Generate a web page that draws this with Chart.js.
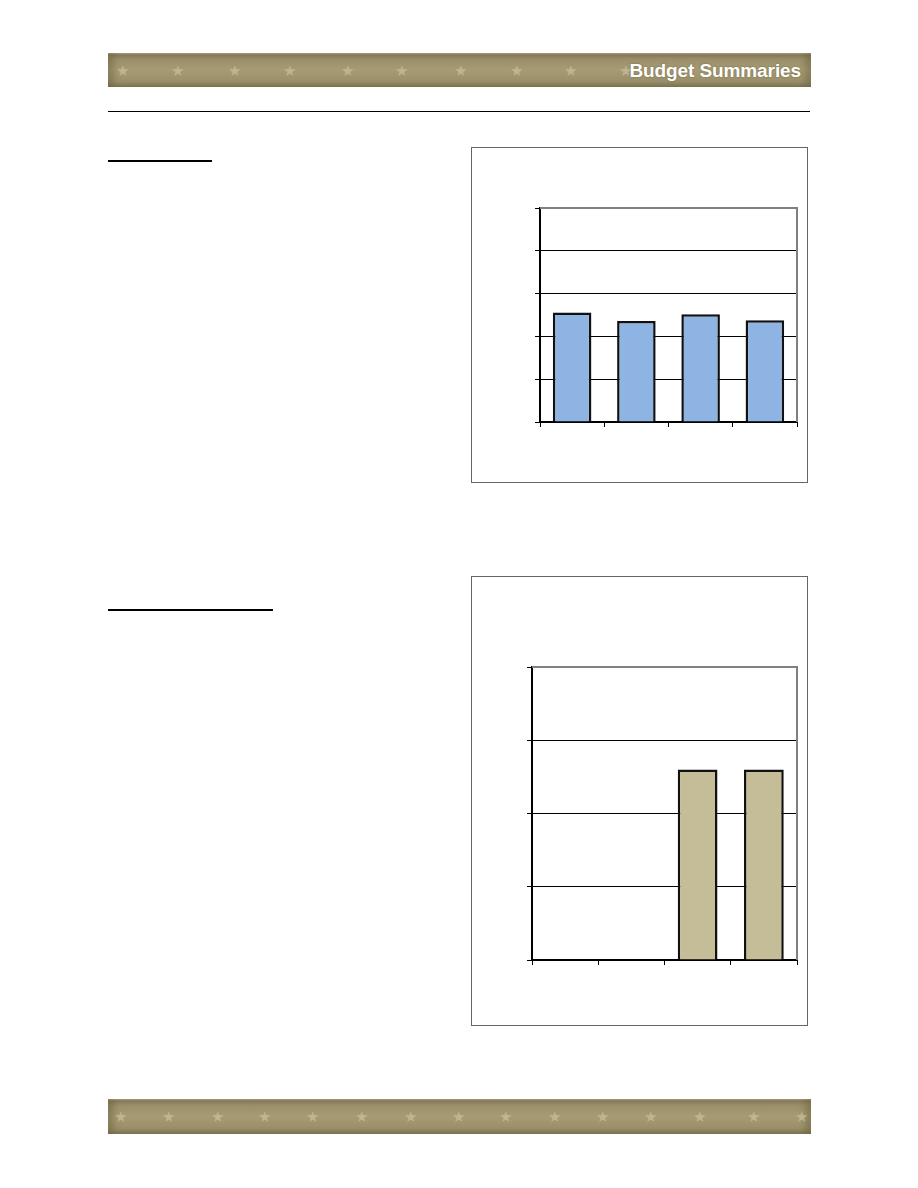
<!DOCTYPE html>
<html>
<head>
<meta charset="utf-8">
<script src="https://cdn.jsdelivr.net/npm/chart.js@4/dist/chart.umd.min.js"></script>
<style>
  body { margin: 0; background: #fff; font-family: "Liberation Sans", Arial, sans-serif; }
  .page { position: relative; width: 918px; height: 1188px; }
  .banner {
    position: absolute; left: 108px; width: 703px; overflow: hidden;
    background: linear-gradient(to bottom, #c9bd92 0px, #8e8262 2px, #9a8f69 6px, #a69b73 50%, #9a8f69 85%, #8a7f5e 100%);
    box-shadow: inset 6px 0 6px rgba(90,80,50,0.35), inset -6px 0 6px rgba(90,80,50,0.35);
  }
  .star { position: absolute; color: rgba(210,200,160,0.6); font-size: 15px; line-height: 15px; }
  .title {
    position: absolute; right: 10px; top: 8px; color: #fff; font-weight: bold;
    font-size: 19px; line-height: 20px; letter-spacing: -0.1px;
    text-shadow: 0 0 2px rgba(80,70,40,0.6);
  }
  .rule { position: absolute; height: 0; border-top: 1px solid #000; }
  .box { position: absolute; border: 1px solid #666; background: #fff; }
  .box canvas { position: absolute; left: 0; top: 0; }
</style>
</head>
<body>
<div class="page">
  <div class="banner" id="topBanner" style="top:53px;height:34px;">
    <div class="title">Budget Summaries</div>
  </div>
  <div class="rule" style="left:108px;top:111px;width:702px;"></div>
  <div class="rule" style="left:108px;top:160px;width:104px;border-top-width:2px;"></div>
  <div class="rule" style="left:108px;top:609px;width:165px;border-top-width:2px;"></div>

  <div class="box" style="left:471px;top:147px;width:335px;height:334px;">
    <canvas id="chart1" width="335" height="334"></canvas>
  </div>
  <div class="box" style="left:471px;top:576px;width:335px;height:448px;">
    <canvas id="chart2" width="335" height="448"></canvas>
  </div>

  <div class="banner" id="bottomBanner" style="top:1099px;height:35px;"></div>
</div>
<script>
// stars along the banners
const topStarX = [123, 178, 235, 290, 348, 402, 461, 517, 571, 626];
const bottomStarX = [121, 169, 218, 265, 313, 362, 411, 459, 506, 555, 603, 651, 700, 754, 802];

function addStars(id, xs) {
  const el = document.getElementById(id);
  xs.forEach(x => {
    const s = document.createElement('div');
    s.className = 'star';
    s.textContent = '★';
    s.style.left = (x - 108 - 7) + 'px';
    s.style.top = '10px';
    el.insertBefore(s, el.firstChild);
  });
}
addStars('topBanner', topStarX);
addStars('bottomBanner', bottomStarX);

// chart data (no labels are shown in the source)
const categories = ['1', '2', '3', '4'];
const chart1Values = [2.56, 2.36, 2.52, 2.38];
const chart1Max = 5;
const chart2Values = [0, 0, 2.6, 2.6];
const chart2Max = 4;

// gray frame on top and right of the plot area
const plotFrame = {
  id: 'plotFrame',
  afterDatasetsDraw(chart) {
    const { ctx, chartArea: a } = chart;
    ctx.save();
    ctx.strokeStyle = '#808080';
    ctx.lineWidth = 2;
    ctx.beginPath();
    ctx.moveTo(a.left, a.top);
    ctx.lineTo(a.right, a.top);
    ctx.lineTo(a.right, a.bottom);
    ctx.stroke();
    ctx.restore();
  }
};

function makeChart(id, values, max, color, padding) {
  return new Chart(document.getElementById(id), {
    type: 'bar',
    data: {
      labels: categories,
      datasets: [{
        data: values,
        backgroundColor: color,
        borderColor: '#111',
        borderWidth: 2.5,
        categoryPercentage: 1,
        barPercentage: 0.6
      }]
    },
    options: {
      responsive: false,
      animation: false,
      layout: { padding: padding },
      plugins: { legend: { display: false }, tooltip: { enabled: false } },
      scales: {
        x: {
          ticks: { display: false },
          grid: { color: 'rgba(0,0,0,0)', tickColor: '#000', tickLength: 5, offset: true },
          border: { color: '#000', width: 2 }
        },
        y: {
          min: 0,
          max: max,
          ticks: { display: false, stepSize: 1 },
          grid: { color: '#000', tickColor: '#000', tickLength: 5, lineWidth: 1 },
          border: { color: '#000', width: 2 }
        }
      }
    },
    plugins: [plotFrame]
  });
}

makeChart('chart1', chart1Values, chart1Max, '#8eb4e3', { left: 63, top: 60, right: 10, bottom: 55 });
makeChart('chart2', chart2Values, chart2Max, '#c4bd97', { left: 55, top: 90, right: 10, bottom: 60 });
</script>
</body>
</html>
